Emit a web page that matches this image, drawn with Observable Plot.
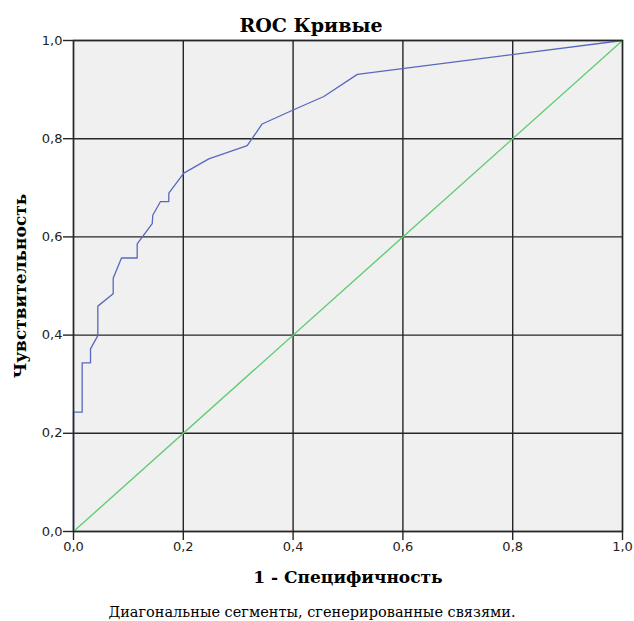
<!DOCTYPE html>
<html><head><meta charset="utf-8">
<script src="https://cdn.jsdelivr.net/npm/d3@7"></script>
<script src="https://cdn.jsdelivr.net/npm/@observablehq/plot@0.6"></script>
<style>
body{margin:0;background:#fff}
</style>
</head><body><div id="chart"></div>
<script>
const fpr = [0, 0, 0.0158, 0.0158, 0.031, 0.031, 0.0443, 0.0443, 0.0723, 0.0723, 0.0874, 0.116, 0.116, 0.1434, 0.1444, 0.1585, 0.1736, 0.1736, 0.201, 0.2464, 0.3164, 0.3437, 0.401, 0.456, 0.517, 1];
const tpr = [0, 0.243, 0.243, 0.3436, 0.3436, 0.372, 0.399, 0.459, 0.484, 0.516, 0.557, 0.557, 0.586, 0.627, 0.644, 0.672, 0.672, 0.689, 0.730, 0.759, 0.786, 0.830, 0.859, 0.886, 0.931, 1];
const refX = [0, 1];
const refY = [0, 1];
const ticks = [0, 0.2, 0.4, 0.6, 0.8, 1.0];
const tickLabels = ["0,0", "0,2", "0,4", "0,6", "0,8", "1,0"];
const titleText = "ROC Кривые";
const xLabel = "1 - Специфичность";
const yLabel = "Чувствительность";
const footnote = "Диагональные сегменты, сгенерированные связями.";

const roc = fpr.map((x, i) => ({x, y: tpr[i]}));
const ref = refX.map((x, i) => ({x, y: refY[i]}));
const fmt = d => tickLabels[ticks.findIndex(t => Math.abs(t - d) < 1e-9)];
const serif = "DejaVu Serif";
const sans = "DejaVu Sans";
const gridColor = "#262626";

const chart = Plot.plot({
  width: 634, height: 621,
  marginLeft: 73, marginRight: 12, marginTop: 40, marginBottom: 90,
  style: {fontFamily: sans, fontSize: "13px", background: "#fff", color: "#000"},
  x: {domain: [0, 1]},
  y: {domain: [0, 1]},
  marks: [
    Plot.frame({fill: "#f0f0f0", stroke: null}),
    Plot.gridX(ticks, {stroke: gridColor, strokeOpacity: 1, strokeWidth: 1.4}),
    Plot.gridY(ticks, {stroke: gridColor, strokeOpacity: 1, strokeWidth: 1.4}),
    Plot.line(ref, {x: "x", y: "y", stroke: "#62cd72", strokeWidth: 1.4}),
    Plot.line(roc, {x: "x", y: "y", stroke: "#5769bd", strokeWidth: 1.3}),
    Plot.frame({stroke: gridColor, strokeWidth: 1.4}),
    Plot.axisX(ticks, {tickFormat: fmt, tickSize: 9, tickPadding: 1, label: null, fontSize: 13, fontFamily: sans, stroke: gridColor, strokeWidth: 1.4, fill: "#222"}),
    Plot.axisY(ticks, {tickFormat: fmt, tickSize: 10, tickPadding: 1, label: null, fontSize: 13, fontFamily: sans, stroke: gridColor, strokeWidth: 1.4, fill: "#222"}),
    Plot.text([titleText], {text: d => d, frameAnchor: "top", dx: -37, dy: -15, lineAnchor: "middle", textAnchor: "middle", fontSize: 19, fontWeight: "bold", fontFamily: serif, fill: "#000"}),
    Plot.text([xLabel], {text: d => d, frameAnchor: "bottom", dy: 46, lineAnchor: "middle", textAnchor: "middle", fontSize: 17, fontWeight: "bold", fontFamily: serif, fill: "#000"}),
    Plot.text([yLabel], {text: d => d, frameAnchor: "left", dx: -53, rotate: -90, lineAnchor: "middle", textAnchor: "middle", fontSize: 17, fontWeight: "bold", fontFamily: serif, fill: "#000"}),
    Plot.text([footnote], {text: d => d, frameAnchor: "bottom", dx: -36, dy: 81, lineAnchor: "middle", textAnchor: "middle", fontSize: 14.5, fontFamily: serif, fill: "#000"})
  ]
});
document.getElementById("chart").append(chart);
</script>
</body></html>
